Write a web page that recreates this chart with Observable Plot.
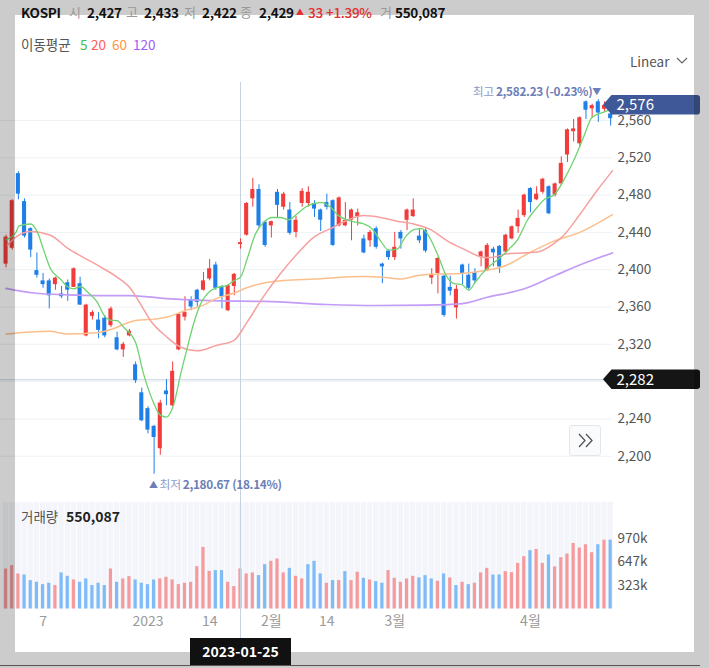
<!DOCTYPE html>
<html><head><meta charset="utf-8">
<script src="https://cdn.jsdelivr.net/npm/d3@7"></script>
<script src="https://cdn.jsdelivr.net/npm/@observablehq/plot@0.6"></script>
<style>
html,body{margin:0;padding:0;background:#fff;}
#wrap{position:relative;width:709px;height:668px;overflow:hidden;font-family:"Noto Sans CJK KR","Noto Sans",sans-serif;}
.abs{position:absolute;white-space:nowrap;line-height:16px;}
.shade{position:absolute;background:rgba(0,0,0,0.2);z-index:2;}
.top{z-index:3;}
.g{color:#999;font-size:13px;}
.b{color:#111;font-size:13.5px;font-weight:700;letter-spacing:-0.3px;}
.r{color:#e33030;font-size:13.5px;font-weight:500;letter-spacing:-0.3px;}
</style></head><body><div id="wrap">
<div class="shade" style="left:0;top:0;width:709px;height:15px"></div>
<div class="shade" style="left:0;top:15px;width:15px;height:637px"></div>
<div class="shade" style="left:694px;top:15px;width:15px;height:637px"></div>
<div class="shade" style="left:0;top:652px;width:709px;height:16px"></div>
<div class="abs top" style="left:0;top:665px;width:700px;height:1.4px;background:#555;line-height:0"></div>

<div class="abs top b" style="left:21px;top:4px">KOSPI</div>
<div class="abs top g" style="left:69px;top:4px">시</div>
<div class="abs top b" style="left:87px;top:4px">2,427</div>
<div class="abs top g" style="left:126px;top:4px">고</div>
<div class="abs top b" style="left:144px;top:4px">2,433</div>
<div class="abs top g" style="left:184px;top:4px">저</div>
<div class="abs top b" style="left:202px;top:4px">2,422</div>
<div class="abs top g" style="left:240px;top:4px">종</div>
<div class="abs top b" style="left:259px;top:4px">2,429</div>
<div class="abs top r" style="left:296px;top:4px;font-size:8px">▲</div>
<div class="abs top r" style="left:308px;top:4px">33</div>
<div class="abs top r" style="left:326px;top:4px">+1.39%</div>
<div class="abs top g" style="left:380px;top:4px">거</div>
<div class="abs top b" style="left:395px;top:4px">550,087</div>

<div class="abs top" style="left:21px;top:36px;font-size:13.5px;color:#555">이동평균</div>
<div class="abs top" style="left:80px;top:36px;font-size:13.5px;color:#47c047">5</div>
<div class="abs top" style="left:91px;top:36px;font-size:13.5px;color:#ff5a5a">20</div>
<div class="abs top" style="left:112px;top:36px;font-size:13.5px;color:#ff9640">60</div>
<div class="abs top" style="left:133px;top:36px;font-size:13.5px;color:#a35cf5">120</div>

<div class="abs top" style="left:630px;top:53px;font-size:13.5px;color:#555">Linear</div>
<svg class="abs top" style="left:676px;top:57px" width="12" height="8"><path d="M1,1 L6,6 L11,1" fill="none" stroke="#666" stroke-width="1.2"/></svg>

<div class="abs top" style="left:21px;top:508px;font-size:13.5px;color:#555">거래량</div>
<div class="abs top" style="left:66px;top:508px;font-size:14px;font-weight:700;color:#222">550,087</div>

<div class="abs top" style="left:569px;top:425px;width:30px;height:29px;border:1px solid #e3e6ec;border-radius:3px;background:#fafbfc">
<svg width="30" height="29" style="display:block"><path d="M9,8 L15,14.5 L9,21 M16,8 L22,14.5 L16,21" fill="none" stroke="#555" stroke-width="1.3"/></svg>
</div>
<div id="datebox" class="abs top" style="top:638px;height:27px;width:101px;background:#111;color:#fff;font-size:14px;font-weight:700;text-align:center;line-height:27px"></div>
</div>
<script>
// ---- data ----
const openP = [2406,2423,2503,2473,2444,2399,2388,2388,2384,2374, 2386,2381,2385,2329,2350,2346,2348,2340,2327,2314,
  2329,2298,2268,2251,2232,2208,2270,2254,2314,2349, 2367,2378,2378,2390,2405,2382,2356,2382,2427,2437,
  2476,2486,2451,2447,2483,2467,2464,2440,2471,2471, 2471,2464,2472,2474,2447,2447,2453,2457,2433,2431,
  2444,2406,2420,2413,2440,2453,2457,2436,2442,2391, 2396,2393,2381,2359,2405,2394,2397,2413,2399,2422,
  2425,2419,2433,2446,2458,2487,2475,2483,2489,2480, 2492,2523,2548,2535,2580,2572.5,2580,2572,2567];
const highP = [2437,2475,2505,2476,2445,2418,2396,2390,2392,2382, 2389,2402,2392,2363,2356,2354,2351,2360,2333,2322,
  2336,2301,2273,2253,2233,2260,2282,2301,2353,2371, 2371,2379,2397,2411,2408,2383,2384,2396,2433,2472,
  2498,2491,2452,2452,2486,2483,2472,2457,2487,2489, 2474,2465,2481,2475,2478,2472,2465,2465,2437,2442,
  2446,2407,2421,2440,2442,2465,2476,2444,2444,2401, 2413,2394,2393,2383,2406,2406,2401,2420,2428,2424,
  2426,2438,2447,2464,2481,2488,2489,2498,2490,2493, 2521,2551,2561,2564,2581,2577.5,2582.23,2580,2569];
const lowP = [2402,2421,2475,2434,2413,2391,2380,2358,2378,2369, 2366,2381,2362,2328,2346,2326,2327,2338,2313,2306,
  2328,2278,2237,2224,2180.67,2201,2254,2253,2313,2345, 2356,2360,2377,2388,2378,2358,2355,2372,2422,2436,
  2467,2444,2424,2434,2456,2464,2437,2434,2467,2467, 2456,2441,2464,2425,2446,2446,2431,2447,2417,2424,
  2422,2385,2410,2410,2422,2442,2456,2428,2418,2384, 2374,2349,2372,2347,2384,2378,2385,2403,2398,2403,
  2396,2417,2432,2439,2456,2461,2474,2481,2459,2478, 2490,2515,2537,2531,2561,2562,2558,2569,2554];
const closeP = [2435,2474,2481,2436,2421,2394,2384,2372,2391,2371, 2378,2401,2362,2362,2354,2335,2329,2358,2314,2320,
  2334,2281,2238,2228,2220,2257,2266,2291,2352,2354, 2360,2365,2388,2401,2380,2371,2383,2395,2429,2471,
  2486,2447,2426,2451.5,2469,2481,2439,2453,2484,2483, 2465,2453,2467,2426,2477,2453,2464,2461,2418,2440,
  2424,2403,2413,2424,2433,2464,2464,2431,2420,2395, 2412,2351,2377,2379,2396,2380,2388,2419,2426,2418,
  2403,2437,2446,2455,2480,2472,2481,2497,2460,2492, 2514,2550,2551,2563,2571,2576,2568,2576,2562];
const volume = [548,594,480,466,389,366,334,353,321,494, 448,398,366,412,321,353,321,548,366,412,
  444,398,353,334,398,412,435,398,334,353, 366,580,844,516,526,526,366,307,550,480,
  494,457,607,653,685,494,557,448,412,607, 653,480,353,389,389,512,389,503,421,398,
  375,353,526,421,366,412,448,426,457,412, 380,480,426,321,366,334,353,494,557,466,
  466,512,498,625,717,799,816,625,740,576, 703,753,898,835,880,771,880,943,943].map(v => v * 1000);
const volDir = ("RRRBBBBBRB" + "BRBBBBBRBR" + "RBBBBRRRRR" + "RRRRBBRRRR" + "RBBRRRBRRB" +
  "BBRBRBRRBR" + "BBRRRRRBBB" + "RBRBRBRRRB" + "BRRRRBRRBR" + "RRRRRRBRB").split("");

const ma5 = [[0,2432],[1.6,2440],[2.1,2447],[4,2449],[5.1,2440],[6.1,2421],[7.2,2401],[8.8,2390],[9.9,2382],[11,2379.5],[12.1,2382],[13.2,2376],[14.8,2365],[15.9,2351],[16.9,2346],[18,2345.5],[19.1,2338],[20.2,2331],[21,2322],[22.3,2288],[24,2256],[25,2244],[26,2242],[27.2,2256],[28.3,2288],[29.4,2317],[30.4,2342],[31.5,2363],[32.6,2374],[34.2,2381],[35.8,2383],[36.9,2388],[38,2392],[39.1,2412],[40.4,2438],[41.8,2451],[43.1,2456],[44.5,2456],[45.8,2453.5],[47.2,2460],[48.5,2467],[49.9,2471],[51.2,2472],[52.6,2467],[53.9,2458],[55.3,2453.5],[56.6,2451],[58,2449],[59.3,2444],[60.7,2431],[62,2421],[63.4,2422],[64.7,2435],[66.1,2443],[67.4,2444],[68.3,2438.5],[69.9,2417],[71.5,2392],[72.6,2385],[73.9,2384],[75,2378],[76.1,2387],[77.2,2396],[78.5,2404.5],[80.1,2413],[81.5,2422],[82.9,2432],[84.5,2453],[86.1,2467],[87.4,2476],[88.8,2480],[90.4,2496],[92,2517],[93.6,2542],[95,2563.5],[96.9,2569],[98,2572]];
const ma20 = [[0.2,2426],[1.8,2436],[4,2441],[7.2,2437],[9.9,2423.5],[12.6,2413],[15.3,2403],[18,2392],[20.2,2379.5],[21.8,2363],[23.4,2345.5],[26.1,2327.6],[28.3,2317],[31,2313],[34.2,2319],[36.9,2324],[39.1,2344],[41.8,2372],[44.5,2396],[47.2,2417],[49.9,2435],[52.6,2444],[55.3,2453],[58,2458],[60.7,2456],[63.4,2452],[66.1,2449],[68.8,2443],[71.5,2431],[74.2,2422],[76.9,2414],[78.5,2413],[81.2,2417],[86.1,2419],[88.8,2428],[90.4,2437],[93.1,2460],[95.8,2485],[98.3,2506]];
const ma60 = [[0,2331],[7,2334],[10,2331],[14,2332],[16,2334],[17.5,2337],[21,2345.5],[24,2347],[26,2349],[29,2356],[32,2362],[34,2369],[37,2375],[39,2380.6],[42,2386],[45,2388.4],[50,2390],[58,2392.7],[61,2392],[64,2390],[67,2394],[69,2395],[72.6,2395.6],[77,2398.4],[81,2404.5],[84.5,2417],[88.8,2430.6],[93,2440],[98.3,2459]];
const ma120 = [[0,2380],[4.5,2375],[10,2373],[15,2372.3],[20,2372.3],[26,2369],[32,2367],[38,2366.2],[42,2366],[52,2362.7],[60,2361.6],[68,2362.1],[74,2363.7],[78,2370.5],[84,2379.5],[89,2393.8],[94,2407.7],[98.3,2418]];

const yTicks = [2200,2240,2280,2320,2360,2400,2440,2480,2520,2560];
const yLabelTicks = [2200,2240,2320,2360,2400,2440,2480,2520,2560]; // 2,280 is hidden under the crosshair tag
const volTicks = [323000, 647000, 970000];
const volTickLabels = ["323k", "647k", "970k"];
const xTickIdx = [6, 23, 33, 43, 52, 63, 85];
const xTickLabels = ["7", "2023", "14", "2월", "14", "3월", "4월"];
const crossIdx = 38, crossPrice = 2282, crossDate = "2023-01-25";
const lastPrice = 2576.3;
const volMax = 1459000;

// ---- drawing ----
const FONT = '"Noto Sans CJK KR","Noto Sans",sans-serif';
const RED = "#f23b3b", BLUE = "#1f7fe8", VRED = "#f59a9d", VBLUE = "#7fbbf6";
const N = closeP.length;
const idx = d3.range(N);
const candles = idx.map(i => ({i, o: openP[i], h: highP[i], l: lowP[i], c: closeP[i], up: closeP[i] >= openP[i]}));
const ups = candles.filter(d => d.up), downs = candles.filter(d => !d.up);
const xOpt = {domain: [-0.9, 98.3], range: [0, 612], axis: null};
const lineOpt = {x: d => d[0], y: d => d[1], curve: "monotone-x"};

const price = Plot.plot({
  width: 709, height: 500,
  marginLeft: 0, marginRight: 97, marginTop: 82, marginBottom: 0,
  style: {background: "transparent", fontFamily: FONT, color: "#555", overflow: "visible"},
  x: xOpt,
  y: {domain: [2200, 2560], range: [455.7, 120], axis: null},
  marks: [
    Plot.gridY(yTicks, {stroke: "#eef1f5", strokeOpacity: 1}),
    Plot.axisY(yLabelTicks, {anchor: "right", tickSize: 0, tickPadding: 5, fontSize: 13.5, tickFormat: d3.format(",")}),
    Plot.ruleX([crossIdx], {stroke: "#c9d2e1", strokeWidth: 1}),
    Plot.ruleY([crossPrice], {stroke: "#c9d2e1", strokeWidth: 1}),
    Plot.ruleX(ups, {x: "i", y1: "l", y2: "h", stroke: RED, strokeWidth: 1}),
    Plot.ruleX(downs, {x: "i", y1: "l", y2: "h", stroke: BLUE, strokeWidth: 1}),
    Plot.rect(ups, {x1: d => d.i - 0.33, x2: d => d.i + 0.33, y1: "o", y2: "c", fill: RED}),
    Plot.rect(downs, {x1: d => d.i - 0.33, x2: d => d.i + 0.33, y1: "o", y2: "c", fill: BLUE}),
    Plot.line(ma120, {...lineOpt, stroke: "#c39cf6", strokeWidth: 1.7}),
    Plot.line(ma60, {...lineOpt, stroke: "#fcbf8c", strokeWidth: 1.5}),
    Plot.line(ma20, {...lineOpt, stroke: "#f6a0a0", strokeWidth: 1.5}),
    Plot.line(ma5, {...lineOpt, stroke: "#6fd36f", strokeWidth: 1.3})
  ]
});

const vol = Plot.plot({
  width: 709, height: 173,
  marginLeft: 0, marginRight: 97, marginTop: 0, marginBottom: 30,
  style: {background: "transparent", fontFamily: FONT, color: "#555", overflow: "visible"},
  x: xOpt,
  y: {domain: [0, volMax], range: [113.5, 7], axis: null},
  marks: [
    Plot.rect(idx, {x1: i => i - 0.44, x2: i => i + 0.44, y1: 0, y2: volMax, fill: "#f3f5fa"}),
    Plot.rect(idx.filter(i => volDir[i] === "R"), {x1: i => i - 0.26, x2: i => i + 0.26, y1: 0, y2: i => volume[i], fill: VRED}),
    Plot.rect(idx.filter(i => volDir[i] === "B"), {x1: i => i - 0.26, x2: i => i + 0.26, y1: 0, y2: i => volume[i], fill: VBLUE}),
    Plot.axisY(volTicks, {anchor: "right", tickSize: 0, tickPadding: 5, fontSize: 13.5, tickFormat: d => volTickLabels[volTicks.indexOf(d)]}),
    Plot.text(xTickIdx, {x: d => d, y: 0, dy: 13, text: (d, i) => xTickLabels[i], fill: "#9a9a9a", fontSize: 14}),
    Plot.ruleX([crossIdx], {stroke: "#c9d2e1", strokeWidth: 1})
  ]
});

const wrap = document.getElementById("wrap");
for (const [el, top] of [[price, 0], [vol, 495]]) {
  el.style.position = "absolute"; el.style.left = "0px"; el.style.top = top + "px"; el.style.zIndex = 1;
  wrap.insertBefore(el, wrap.firstChild);
}

// annotations through the plot's scales
const sx = price.scale("x"), sy = price.scale("y");
const svg = d3.select(price);
const fmt = d3.format(",");
const hyph = s => s.replace(/\u2212/g, "-");
function tag(v, color) {
  const y = sy.apply(v), x0 = sx.apply(98.3);
  svg.append("path")
    .attr("d", `M${x0 - 9},${y} L${x0 - 0.5},${y - 9.8} H${x0 + 85} Q${x0 + 88},${y - 9.8} ${x0 + 88},${y - 7} V${y + 7} Q${x0 + 88},${y + 9.8} ${x0 + 85},${y + 9.8} H${x0 - 0.5} Z`)
    .attr("fill", color);
  svg.append("text").attr("x", x0 + 4.5).attr("y", y).attr("dy", "0.36em").attr("text-anchor", "start")
    .attr("fill", "#fff").attr("font-size", 15).attr("font-family", FONT).text(fmt(Math.round(v)));
}
tag(lastPrice, "#3f5897");
tag(crossPrice, "#151515");

const hiV = d3.max(highP), hiI = highP.indexOf(hiV);
const loV = d3.min(lowP), loI = lowP.indexOf(loV);
const pct = v => (lastPrice - v) / v * 100;
{
  const x = sx.apply(hiI), y = sy.apply(hiV) - 8;
  const t = svg.append("text").attr("x", x - 5.5).attr("y", y).attr("dy", "0.36em")
    .attr("text-anchor", "end").attr("font-size", 11.8).attr("font-family", FONT).attr("letter-spacing", "-0.3");
  t.append("tspan").attr("fill", "#8d9bc6").text("최고");
  t.append("tspan").attr("fill", "#6c7eb6").attr("font-weight", 700).attr("dx", 2)
    .text(hyph(`${d3.format(",.2f")(hiV)} (${d3.format(".2f")(pct(hiV))}%)`));
  svg.append("text").attr("x", x - 1).attr("y", y).attr("dy", "0.36em").attr("text-anchor", "middle")
    .attr("font-size", 9).attr("fill", "#6c7eb6").text("▼");
}
{
  const x = sx.apply(loI), y = sy.apply(loV) + 11;
  svg.append("text").attr("x", x).attr("y", y).attr("dy", "0.36em").attr("text-anchor", "middle")
    .attr("font-size", 9).attr("fill", "#6c7eb6").text("▲");
  const t = svg.append("text").attr("x", x + 6).attr("y", y).attr("dy", "0.36em").attr("text-anchor", "start")
    .attr("font-size", 11.8).attr("font-family", FONT).attr("letter-spacing", "-0.3");
  t.append("tspan").attr("fill", "#8d9bc6").text("최저");
  t.append("tspan").attr("fill", "#6c7eb6").attr("font-weight", 700).attr("dx", 2)
    .text(hyph(`${d3.format(",.2f")(loV)} (${d3.format(".2f")(pct(loV))}%)`));
}

const db = document.getElementById("datebox");
db.textContent = crossDate;
db.style.left = (sx.apply(crossIdx) - 50) + "px";
</script>
</body></html>
